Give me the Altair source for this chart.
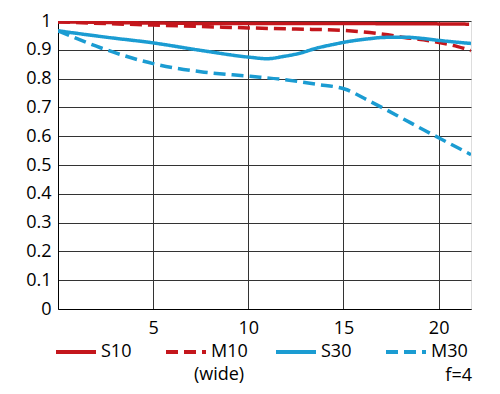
import altair as alt
import pandas as pd

series_order = ["S10", "M10", "S30", "M30"]
colors = ["#c4161c", "#c4161c", "#1b9cd2", "#1b9cd2"]

s10_x = [0, 5, 10, 15, 20, 21.6]
s10_y = [0.997, 0.993, 0.991, 0.991, 0.99, 0.989]

m10_x = [0, 2.5, 5, 7.5, 10, 12.5, 15.1, 17.1, 18.2, 19.2, 20.1, 21, 21.7]
m10_y = [0.997, 0.991, 0.986, 0.981, 0.976, 0.972, 0.967, 0.954, 0.943, 0.935, 0.924, 0.911, 0.897]

s30_x = [0, 2.5, 5, 7.5, 10.1, 11.0, 11.85, 12.7, 13.6, 14.5, 15.1, 16.3, 17.1, 18.2, 18.9, 20.1, 21.7]
s30_y = [0.966, 0.944, 0.924, 0.898, 0.874, 0.869, 0.877, 0.888, 0.906, 0.919, 0.927, 0.938, 0.943, 0.944, 0.941, 0.932, 0.922]

m30_x = [0, 2.2, 5, 7.5, 10.1, 11.8, 13.6, 15.1, 16.3, 17.1, 18.2, 19.3, 20.1, 21.7]
m30_y = [0.966, 0.908, 0.852, 0.824, 0.808, 0.797, 0.78, 0.763, 0.724, 0.697, 0.658, 0.619, 0.591, 0.536]

x_ticks = [5, 10, 15, 20]
y_ticks = [0, 0.1, 0.2, 0.3, 0.4, 0.5, 0.6, 0.7, 0.8, 0.9, 1]

rows = []
for name, xs, ys in [("S10", s10_x, s10_y), ("M10", m10_x, m10_y),
                     ("S30", s30_x, s30_y), ("M30", m30_x, m30_y)]:
    for i, (xv, yv) in enumerate(zip(xs, ys)):
        rows.append({"series": name, "x": xv, "y": yv, "order": i})
df = pd.DataFrame(rows)

FONT = "Open Sans"
FS = 18

lines = alt.Chart(df).mark_line(strokeWidth=3.5, interpolate="monotone", clip=True).encode(
    x=alt.X("x:Q", scale=alt.Scale(domain=[0, 21.7], nice=False, zero=False),
            axis=alt.Axis(values=x_ticks, title=None, ticks=False, labelPadding=10,
                          labelFontSize=FS, labelFont=FONT, labelColor="black",
                          gridColor="#333333", gridWidth=1, domainColor="black")),
    y=alt.Y("y:Q", scale=alt.Scale(domain=[0, 1], nice=False),
            axis=alt.Axis(values=y_ticks, title=None, ticks=False, labelPadding=7,
                          labelFontSize=FS, labelFont=FONT, labelColor="black",
                          gridColor="#333333", gridWidth=1, domainColor="black",
                          labelExpr="datum.value == 1 ? '1' : datum.value == 0 ? '0' : format(datum.value, '.1f')")),
    color=alt.Color("series:N", scale=alt.Scale(domain=series_order, range=colors),
                    legend=alt.Legend(orient="none", legendX=-4, legendY=309, direction="horizontal",
                                      columns=4, title=None, symbolType="stroke", symbolSize=1600,
                                      symbolStrokeWidth=4, labelFontSize=FS, labelFont=FONT,
                                      labelColor="black", labelOffset=3, columnPadding=20,
                                      padding=0, gridAlign="all")),
    strokeDash=alt.StrokeDash("series:N", scale=alt.Scale(domain=series_order,
                              range=[[1, 0], [12, 6], [1, 0], [12, 6]]), legend=None),
    order="order:Q",
)

notes = pd.DataFrame({"label": ["(wide)", "f=4"]})
wide = alt.Chart(notes).transform_filter(alt.datum.label == "(wide)").mark_text(
    font=FONT, fontSize=FS, color="black", align="center", baseline="middle"
).encode(text="label:N", x=alt.value(161), y=alt.value(354))
f4 = alt.Chart(notes).transform_filter(alt.datum.label == "f=4").mark_text(
    font=FONT, fontSize=FS, color="black", align="right", baseline="middle"
).encode(text="label:N", x=alt.value(414), y=alt.value(355))

chart = alt.layer(lines, wide, f4).properties(
    width=413, height=288,
    autosize=alt.AutoSizeParams(type="none"),
    padding={"left": 50, "top": 13, "right": 21, "bottom": 77},
).configure_view(stroke="black", strokeWidth=1).configure(background="white")

chart.save("out.html", embed_options={"renderer": "svg", "actions": False})
